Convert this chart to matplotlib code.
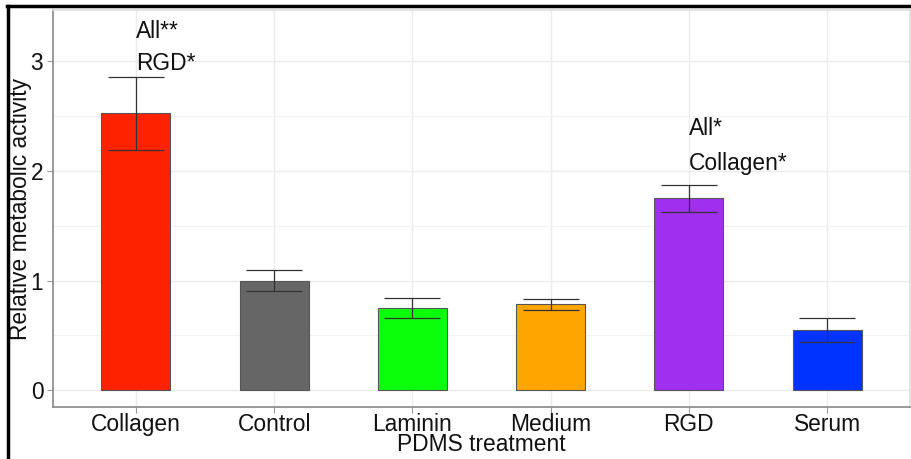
import numpy as np
import matplotlib
matplotlib.use("Agg")
import matplotlib.pyplot as plt
from matplotlib.lines import Line2D

plt.rcParams['font.family'] = ['Liberation Sans', 'DejaVu Sans']

# data
treatments = ["Collagen", "Control", "Laminin", "Medium", "RGD", "Serum"]
activity = [2.525, 1.00, 0.75, 0.785, 1.75, 0.55]
err = [0.33, 0.10, 0.09, 0.05, 0.125, 0.11]
bar_colors = ["#FF2200", "#666666", "#0BFF0B", "#FFA500", "#A030F0", "#0033FF"]

# significance labels: (bar index, lines)
sig_labels = {0: ["All**", "RGD*"], 4: ["All*", "Collagen*"]}
sig_y = {0: [3.27, 2.98], 4: [2.385, 2.07]}

fig = plt.figure(figsize=(9.12, 4.59), dpi=100)
ax = fig.add_axes([53/912, 1 - 407/459, (910-53)/912, (407-10)/459])

x = np.arange(len(treatments))
ax.bar(x, activity, width=0.5, color=bar_colors, edgecolor="#555555",
       linewidth=0.8, zorder=3)
ax.errorbar(x, activity, yerr=err, fmt="none", ecolor="#333333",
            elinewidth=0.9, capsize=20.5, capthick=0.9, zorder=4)

for i, lines in sig_labels.items():
    for txt, yy in zip(lines, sig_y[i]):
        ax.text(x[i], yy, txt, fontsize=16.4, ha="left", va="center",
                color="#111111", zorder=5)

ax.set_xlim(-0.6, 5.6)
ax.set_ylim(-0.155, 3.47)
ax.set_xticks(x)
ax.set_xticklabels(treatments)
ax.set_yticks([0, 1, 2, 3])
ax.set_yticks([0.5, 1.5, 2.5], minor=True)
ax.tick_params(axis="both", labelsize=16.4, colors="#111111", length=4,
               width=0.8, color="#999999")
ax.tick_params(axis="x", pad=0)
ax.tick_params(axis="y", pad=3)
ax.tick_params(axis="y", which="minor", length=0)

ax.grid(True, which="major", color="#ECECEC", linewidth=1.0, zorder=0)
ax.grid(True, which="minor", axis="y", color="#F3F3F3", linewidth=0.8, zorder=0)
ax.set_axisbelow(True)

for side in ["top", "right"]:
    ax.spines[side].set_color("#DDDDDD")
    ax.spines[side].set_linewidth(1.2)
for side in ["left", "bottom"]:
    ax.spines[side].set_color("#888888")
    ax.spines[side].set_linewidth(1.2)

ax.set_xlabel("PDMS treatment", fontsize=16.4, color="#111111")
ax.set_ylabel("Relative metabolic activity", fontsize=16.4, color="#111111")
ax.xaxis.set_label_coords(0.5, -0.066)
ax.yaxis.set_label_coords(-0.025, 0.5)

# black frame of the screenshot (top and left only)
fig.add_artist(Line2D([7/912, 1], [1 - 6/459, 1 - 6/459], color="black",
                      linewidth=2.5, transform=fig.transFigure))
fig.add_artist(Line2D([8/912, 8/912], [0, 1 - 6/459], color="black",
                      linewidth=2.5, transform=fig.transFigure))

fig.savefig("out.png", dpi=100)
